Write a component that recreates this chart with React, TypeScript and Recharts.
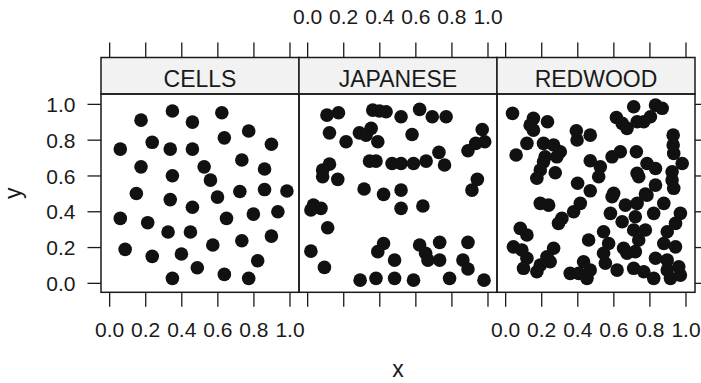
import { ScatterChart, Scatter, XAxis, YAxis } from 'recharts';

// values
const PANEL_NAMES = ['CELLS', 'JAPANESE', 'REDWOOD'];
const X_TICKS = [0, 0.2, 0.4, 0.6, 0.8, 1.0];
const Y_TICKS = [0, 0.2, 0.4, 0.6, 0.8, 1.0];

const cellsX = [0.174, 0.348, 0.459, 0.622, 0.771, 0.636, 0.897, 0.059, 0.236, 0.336, 0.459, 0.733, 0.174, 0.524, 0.859, 0.348, 0.559, 0.148, 0.336, 0.598, 0.722, 0.859, 0.983, 0.459, 0.059, 0.211, 0.324, 0.448, 0.648, 0.797, 0.933, 0.086, 0.236, 0.398, 0.572, 0.733, 0.897, 0.486, 0.821, 0.348, 0.636, 0.771];
const cellsY = [0.912, 0.963, 0.901, 0.953, 0.851, 0.813, 0.777, 0.750, 0.788, 0.750, 0.750, 0.689, 0.651, 0.651, 0.639, 0.601, 0.577, 0.502, 0.468, 0.482, 0.513, 0.524, 0.516, 0.425, 0.363, 0.339, 0.287, 0.287, 0.363, 0.387, 0.400, 0.190, 0.151, 0.164, 0.214, 0.238, 0.264, 0.087, 0.126, 0.028, 0.050, 0.028];

const japaneseX = [0.107, 0.171, 0.361, 0.398, 0.435, 0.518, 0.621, 0.691, 0.768, 0.121, 0.213, 0.287, 0.324, 0.352, 0.389, 0.579, 0.968, 0.982, 0.932, 0.889, 0.343, 0.379, 0.468, 0.518, 0.587, 0.657, 0.728, 0.759, 0.121, 0.083, 0.083, 0.167, 0.313, 0.421, 0.518, 0.941, 0.911, 0.032, 0.074, 0.018, 0.518, 0.639, 0.111, 0.018, 0.093, 0.421, 0.389, 0.482, 0.621, 0.654, 0.667, 0.732, 0.732, 0.889, 0.861, 0.889, 0.291, 0.379, 0.482, 0.587, 0.787, 0.978];
const japaneseY = [0.940, 0.953, 0.968, 0.963, 0.959, 0.931, 0.972, 0.931, 0.931, 0.841, 0.791, 0.841, 0.828, 0.866, 0.791, 0.832, 0.860, 0.791, 0.782, 0.741, 0.683, 0.683, 0.670, 0.670, 0.670, 0.683, 0.732, 0.661, 0.666, 0.633, 0.596, 0.581, 0.527, 0.497, 0.521, 0.581, 0.521, 0.437, 0.419, 0.410, 0.419, 0.432, 0.311, 0.180, 0.089, 0.223, 0.177, 0.130, 0.214, 0.168, 0.130, 0.229, 0.130, 0.229, 0.130, 0.080, 0.018, 0.028, 0.028, 0.018, 0.028, 0.018];

const redwoodX = [0.038, 0.154, 0.136, 0.154, 0.232, 0.118, 0.058, 0.210, 0.266, 0.303, 0.219, 0.284, 0.210, 0.192, 0.173, 0.275, 0.392, 0.396, 0.469, 0.614, 0.646, 0.673, 0.710, 0.729, 0.766, 0.803, 0.831, 0.868, 0.929, 0.929, 0.932, 0.979, 0.923, 0.923, 0.932, 0.469, 0.525, 0.516, 0.590, 0.636, 0.725, 0.784, 0.831, 0.729, 0.738, 0.831, 0.399, 0.469, 0.599, 0.775, 0.192, 0.238, 0.414, 0.377, 0.312, 0.293, 0.590, 0.581, 0.664, 0.729, 0.784, 0.821, 0.877, 0.969, 0.942, 0.646, 0.719, 0.710, 0.775, 0.738, 0.719, 0.896, 0.877, 0.942, 0.543, 0.571, 0.543, 0.654, 0.673, 0.460, 0.081, 0.118, 0.043, 0.090, 0.266, 0.229, 0.247, 0.118, 0.099, 0.173, 0.192, 0.358, 0.432, 0.469, 0.451, 0.405, 0.553, 0.618, 0.710, 0.766, 0.831, 0.896, 0.821, 0.896, 0.960, 0.969, 0.914];
const redwoodY = [0.950, 0.922, 0.884, 0.856, 0.903, 0.782, 0.717, 0.782, 0.773, 0.735, 0.707, 0.707, 0.679, 0.633, 0.587, 0.618, 0.853, 0.801, 0.828, 0.927, 0.894, 0.866, 0.987, 0.903, 0.903, 0.931, 0.996, 0.978, 0.828, 0.773, 0.726, 0.670, 0.623, 0.577, 0.531, 0.685, 0.651, 0.596, 0.707, 0.735, 0.735, 0.670, 0.642, 0.615, 0.596, 0.549, 0.559, 0.517, 0.503, 0.499, 0.447, 0.437, 0.447, 0.400, 0.363, 0.335, 0.484, 0.391, 0.437, 0.447, 0.493, 0.391, 0.447, 0.391, 0.335, 0.344, 0.372, 0.298, 0.298, 0.242, 0.177, 0.288, 0.223, 0.204, 0.288, 0.223, 0.168, 0.196, 0.168, 0.242, 0.307, 0.270, 0.204, 0.186, 0.196, 0.149, 0.121, 0.140, 0.084, 0.065, 0.102, 0.056, 0.121, 0.074, 0.028, 0.056, 0.112, 0.074, 0.084, 0.065, 0.140, 0.130, 0.028, 0.074, 0.093, 0.046, 0.028];

const FONT = '"Liberation Sans", Arial, Helvetica, sans-serif';
const INK = '#1a1a1a';
const W = 701;
const H = 383;
const PANEL_W = 198;
const PANEL_LEFT = [101, 299, 497];
const STRIP_TOP = 57.5;
const PANEL_TOP = 94;
const PANEL_BOTTOM = 292.3;
const TICK = 14.5;
const TICK_FONT = 21;
const AXIS_W = 20;
const X_DOMAIN = [-0.048, 1.05];
const Y_DOMAIN = [-0.05, 1.058];

const fmt = (v: number) => v.toFixed(1);

// draws the tick at the bottom and the matching one above the strip
const xTick = (bottomLabel: boolean, topLabel: boolean) => (props: any) => {
  const { x, payload } = props;
  return (
    <g>
      <line x1={x} x2={x} y1={PANEL_BOTTOM} y2={PANEL_BOTTOM + TICK} stroke={INK} strokeWidth={1.3} />
      <line x1={x} x2={x} y1={STRIP_TOP - 15} y2={STRIP_TOP} stroke={INK} strokeWidth={1.3} />
      {bottomLabel && (
        <text x={x} y={337} textAnchor="middle" fontSize={TICK_FONT} fontFamily={FONT} fill={INK}>
          {fmt(payload.value)}
        </text>
      )}
      {topLabel && (
        <text x={x} y={24} textAnchor="middle" fontSize={TICK_FONT} fontFamily={FONT} fill={INK}>
          {fmt(payload.value)}
        </text>
      )}
    </g>
  );
};

const leftTick = (props: any) => {
  const { y, payload } = props;
  const x0 = PANEL_LEFT[0];
  return (
    <g>
      <line x1={x0 - 13.5} x2={x0} y1={y} y2={y} stroke={INK} strokeWidth={1.3} />
      <text x={75.5} y={y} dy="0.36em" textAnchor="end" fontSize={TICK_FONT} fontFamily={FONT} fill={INK}>
        {fmt(payload.value)}
      </text>
    </g>
  );
};

const rightTick = (props: any) => {
  const { y } = props;
  const x0 = PANEL_LEFT[2] + PANEL_W;
  return <line x1={x0} x2={x0 + TICK} y1={y} y2={y} stroke={INK} strokeWidth={1.3} />;
};

const Dot = (props: any) => <circle cx={props.cx} cy={props.cy} r={6.8} fill="#111" />;

interface PanelProps {
  index: number;
  xs: number[];
  ys: number[];
}

const Panel = ({ index, xs, ys }: PanelProps) => {
  const data = xs.map((x, i) => ({ x, y: ys[i] }));
  const first = index === 0;
  const last = index === 2;
  const left = PANEL_LEFT[index];
  return (
    <div style={{ position: 'absolute', left: 0, top: 0 }}>
      <ScatterChart
        width={W}
        height={H}
        margin={{
          top: PANEL_TOP,
          right: W - left - PANEL_W - (last ? AXIS_W : 0),
          bottom: H - PANEL_BOTTOM - 60,
          left: left - (first ? AXIS_W : 0),
        }}
      >
        <XAxis
          type="number"
          dataKey="x"
          domain={X_DOMAIN}
          ticks={X_TICKS}
          orientation="bottom"
          height={60}
          axisLine={false}
          tickLine={false}
          tick={xTick(index !== 1, index === 1)}
          interval={0}
        />
        <YAxis
          type="number"
          dataKey="y"
          domain={Y_DOMAIN}
          ticks={Y_TICKS}
          orientation={last ? 'right' : 'left'}
          width={first || last ? AXIS_W : 0}
          hide={index === 1}
          axisLine={false}
          tickLine={false}
          tick={first ? leftTick : rightTick}
          interval={0}
        />
        <Scatter data={data} shape={Dot} isAnimationActive={false} />
      </ScatterChart>
    </div>
  );
};

const App = () => {
  const series = [
    [cellsX, cellsY],
    [japaneseX, japaneseY],
    [redwoodX, redwoodY],
  ];
  return (
    <div style={{ position: 'absolute', left: 0, top: 0, width: W, height: H, background: '#fff', fontFamily: FONT }}>
      {series.map(([xs, ys], i) => (
        <Panel key={PANEL_NAMES[i]} index={i} xs={xs} ys={ys} />
      ))}
      <svg width={W} height={H} style={{ position: 'absolute', left: 0, top: 0, pointerEvents: 'none' }}>
        {PANEL_NAMES.map((name, i) => (
          <g key={name}>
            <rect
              x={PANEL_LEFT[i]}
              y={STRIP_TOP}
              width={PANEL_W}
              height={PANEL_TOP - STRIP_TOP}
              fill="#f2f2f2"
              stroke={INK}
              strokeWidth={1.5}
            />
            <text
              x={PANEL_LEFT[i] + PANEL_W / 2}
              y={87}
              textAnchor="middle"
              fontSize={23}
              fontFamily={FONT}
              fill={INK}
            >
              {name}
            </text>
            <rect
              x={PANEL_LEFT[i]}
              y={PANEL_TOP}
              width={PANEL_W}
              height={PANEL_BOTTOM - PANEL_TOP}
              fill="none"
              stroke={INK}
              strokeWidth={1.5}
            />
          </g>
        ))}
        <text x={398} y={377} textAnchor="middle" fontSize={23} fontFamily={FONT} fill={INK}>
          x
        </text>
        <text
          x={0}
          y={0}
          transform={`translate(21, ${(PANEL_TOP + PANEL_BOTTOM) / 2}) rotate(-90)`}
          textAnchor="middle"
          fontSize={23}
          fontFamily={FONT}
          fill={INK}
        >
          y
        </text>
      </svg>
    </div>
  );
};

export default App;
